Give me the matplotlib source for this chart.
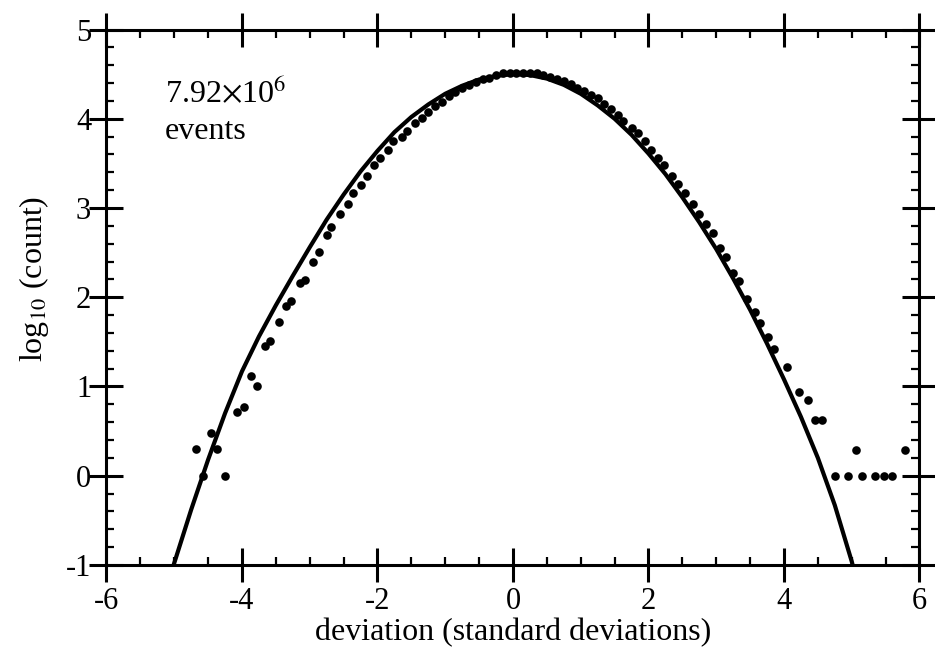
"""
偏差分布图：log10(count) 对 标准差偏差
散点为实测直方图，实线为高斯曲线
"""

import matplotlib
matplotlib.use('Agg')
import matplotlib.pyplot as plt
from matplotlib.ticker import MultipleLocator

plt.close('all')

# ============================================================
# 数据
# ============================================================
# 实测直方图（偏差, log10 计数）
dev_points = [
    -4.68, -4.57, -4.46, -4.37, -4.25, -4.07, -3.97, -3.87, -3.78, -3.66,
    -3.58, -3.46, -3.35, -3.27, -3.15, -3.07, -2.95, -2.86, -2.75, -2.68,
    -2.56, -2.44, -2.36, -2.25, -2.16, -2.05, -1.97, -1.85, -1.77, -1.64,
    -1.57, -1.45, -1.35, -1.25, -1.15, -1.05, -0.95, -0.85, -0.75, -0.65,
    -0.55, -0.45, -0.35, -0.25, -0.15, -0.05, 0.05, 0.15, 0.25, 0.35,
    0.45, 0.55, 0.65, 0.75, 0.85, 0.95, 1.05, 1.15, 1.25, 1.35,
    1.45, 1.55, 1.63, 1.75, 1.85, 1.95, 2.03, 2.14, 2.23, 2.34,
    2.43, 2.54, 2.65, 2.74, 2.85, 2.95, 3.06, 3.14, 3.25, 3.34,
    3.46, 3.57, 3.65, 3.77, 3.85, 4.04, 4.22, 4.36, 4.46, 4.56,
    4.75, 4.95, 5.07, 5.15, 5.34, 5.47, 5.59, 5.79,
]
log_counts = [
    0.30, 0.00, 0.48, 0.30, 0.00, 0.71, 0.77, 1.12, 1.01, 1.45,
    1.51, 1.72, 1.90, 1.96, 2.16, 2.19, 2.39, 2.51, 2.70, 2.79,
    2.93, 3.05, 3.17, 3.26, 3.36, 3.48, 3.56, 3.65, 3.75, 3.80,
    3.86, 3.95, 4.01, 4.08, 4.14, 4.19, 4.25, 4.30, 4.35, 4.38,
    4.41, 4.44, 4.46, 4.49, 4.51, 4.51, 4.51, 4.51, 4.51, 4.51,
    4.49, 4.47, 4.45, 4.42, 4.39, 4.35, 4.31, 4.27, 4.23, 4.17,
    4.11, 4.04, 3.97, 3.90, 3.84, 3.75, 3.65, 3.56, 3.48, 3.36,
    3.27, 3.17, 3.05, 2.93, 2.82, 2.72, 2.55, 2.45, 2.27, 2.18,
    1.98, 1.84, 1.71, 1.56, 1.42, 1.22, 0.94, 0.85, 0.62, 0.62,
    0.00, 0.00, 0.29, 0.00, 0.00, 0.00, 0.00, 0.29,
]

# 高斯曲线
dev_curve = [
    -5.03, -4.75, -4.5, -4.25, -4.0, -3.75, -3.5, -3.25, -3.0, -2.75,
    -2.5, -2.25, -2.0, -1.75, -1.5, -1.25, -1.0, -0.75, -0.5, -0.25,
    0.0, 0.25, 0.5, 0.75, 1.0, 1.25, 1.5, 1.75, 2.0, 2.25,
    2.5, 2.75, 3.0, 3.25, 3.5, 3.75, 4.0, 4.25, 4.5, 4.75, 5.0, 5.03,
]
log_curve = [
    -1.05, -0.38, 0.18, 0.70, 1.17, 1.56, 1.91, 2.24, 2.56, 2.87,
    3.15, 3.41, 3.64, 3.85, 4.02, 4.16, 4.28, 4.37, 4.44, 4.48,
    4.50, 4.49, 4.45, 4.38, 4.28, 4.15, 4.00, 3.82, 3.61, 3.38,
    3.12, 2.84, 2.54, 2.21, 1.86, 1.48, 1.08, 0.66, 0.20, -0.33, -0.96, -1.05,
]

# ============================================================
# 样式
# ============================================================
plt.rcParams['font.family'] = ['Liberation Serif', 'DejaVu Serif']
plt.rcParams['mathtext.fontset'] = 'stix'
plt.rcParams['axes.unicode_minus'] = False

fig = plt.figure(figsize=(9.35, 6.53), dpi=100)
ax = fig.add_axes([0.1139, 0.1348, 0.8695, 0.82])

ax.plot(dev_curve, log_curve, color='black', linewidth=3.0, solid_capstyle='butt')
ax.plot(dev_points, log_counts, linestyle='none', marker='o',
        markersize=6.2, color='black', markeredgewidth=0)

ax.set_xlim(-6, 6)
ax.set_ylim(-1, 5)
ax.xaxis.set_major_locator(MultipleLocator(2))
ax.xaxis.set_minor_locator(MultipleLocator(0.5))
ax.yaxis.set_major_locator(MultipleLocator(1))
ax.yaxis.set_minor_locator(MultipleLocator(0.2))

for spine in ax.spines.values():
    spine.set_linewidth(2.2)

ax.tick_params(which='major', direction='inout', length=24, width=2.2,
               top=True, right=True, labelsize=22, pad=4)
ax.tick_params(which='minor', direction='in', length=6, width=1.6,
               top=True, right=True)
ax.tick_params(axis='y', which='major', pad=-1)

ax.set_xlabel('deviation (standard deviations)', fontsize=23, labelpad=1)
ax.set_ylabel(r'log$_{10}$ (count)', fontsize=23)
ax.yaxis.set_label_coords(-0.068, 0.535)

ax.text(-5.14, 4.19, r'7.92$\times$10$^{6}$', fontsize=23, ha='left', va='baseline')
ax.text(-5.14, 3.77, 'events', fontsize=23, ha='left', va='baseline')

fig.savefig('out.png', dpi=100)
